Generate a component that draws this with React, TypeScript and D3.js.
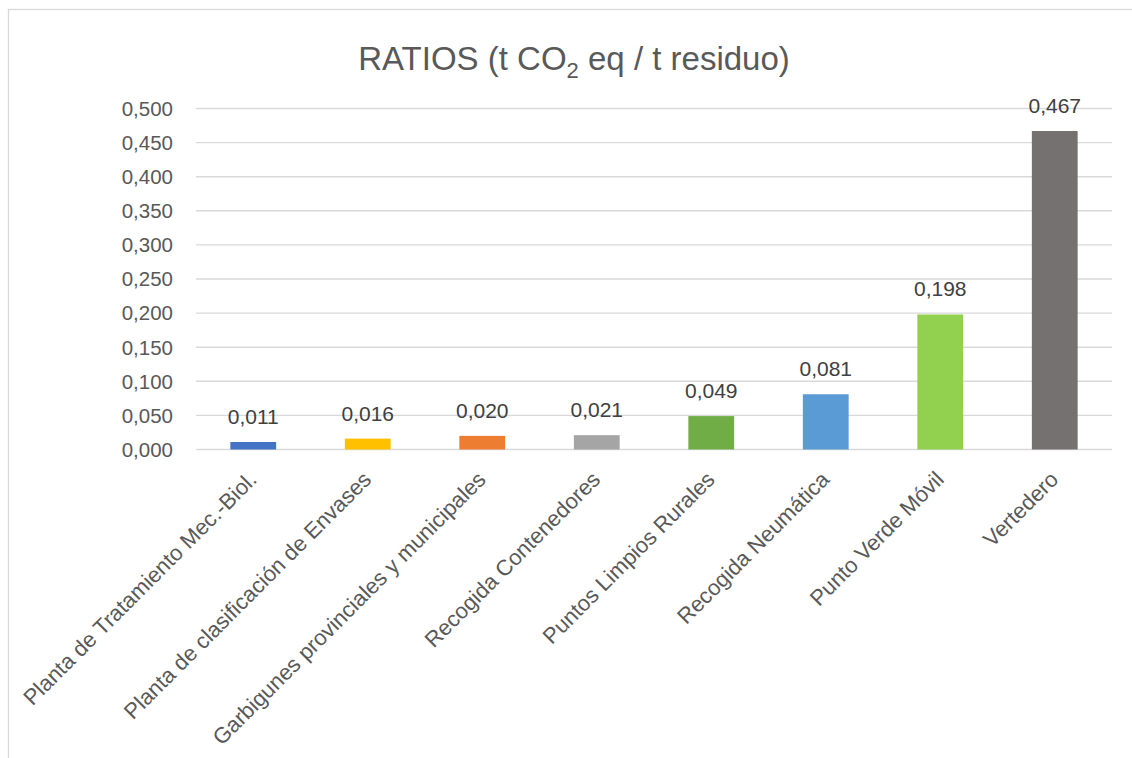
import * as d3 from "d3";
import React from "react";

const categories = [
  "Planta de Tratamiento Mec.-Biol.",
  "Planta de clasificación de Envases",
  "Garbigunes provinciales y municipales",
  "Recogida Contenedores",
  "Puntos Limpios Rurales",
  "Recogida Neumática",
  "Punto Verde Móvil",
  "Vertedero",
];
const ratios = [0.011, 0.016, 0.02, 0.021, 0.049, 0.081, 0.198, 0.467];
const barColors = ["#4472C4", "#FFC000", "#ED7D31", "#A5A5A5", "#70AD47", "#5B9BD5", "#92D050", "#767171"];
const yTicks = d3.range(0, 0.5001, 0.05);

const W = 1132;
const H = 758;
const FONT = "'Liberation Sans', Arial, sans-serif";
const TXT = "#595959";

const fmt = (v: number) => v.toFixed(3).replace(".", ",");

export default function App() {
  const x = d3.scaleBand().domain(categories).range([196, 1112]).paddingInner(0.6).paddingOuter(0.3);
  const y = d3.scaleLinear().domain([0, 0.5]).range([449.5, 108.5]);

  return (
    <svg width={W} height={H} style={{ position: "absolute", left: 0, top: 0 }} fontFamily={FONT}>
      <rect x={8.5} y={9.5} width={1140} height={770} fill="#fff" stroke="#D9D9D9" strokeWidth={1.3} />
      <text x={574} y={70} textAnchor="middle" fontSize={33} fill={TXT}>
        RATIOS (t CO<tspan fontSize={22} dy={8}>2</tspan>
        <tspan dy={-8}> eq / t residuo)</tspan>
      </text>

      {yTicks.map((t) => (
        <g key={t}>
          <line x1={196} x2={1112} y1={y(t)} y2={y(t)} stroke="#D9D9D9" strokeWidth={1.4} />
          <text x={173} y={y(t)} dy="0.36em" textAnchor="end" fontSize={20.5} fill={TXT}>
            {fmt(t)}
          </text>
        </g>
      ))}

      {categories.map((c, i) => {
        const bx = x(c)!;
        const cx = bx + x.bandwidth() / 2;
        return (
          <g key={c}>
            <rect x={bx} y={y(ratios[i])} width={x.bandwidth()} height={y(0) - y(ratios[i])} fill={barColors[i]} />
            <text x={cx} y={y(ratios[i]) - 18} textAnchor="middle" fontSize={21} fill="#404040">
              {fmt(ratios[i])}
            </text>
            <text
              transform={`translate(${cx - 6},${470}) rotate(-45)`}
              textAnchor="end"
              fontSize={22}
              fill={TXT}
              dy="0.7em"
            >
              {c}
            </text>
          </g>
        );
      })}
    </svg>
  );
}
